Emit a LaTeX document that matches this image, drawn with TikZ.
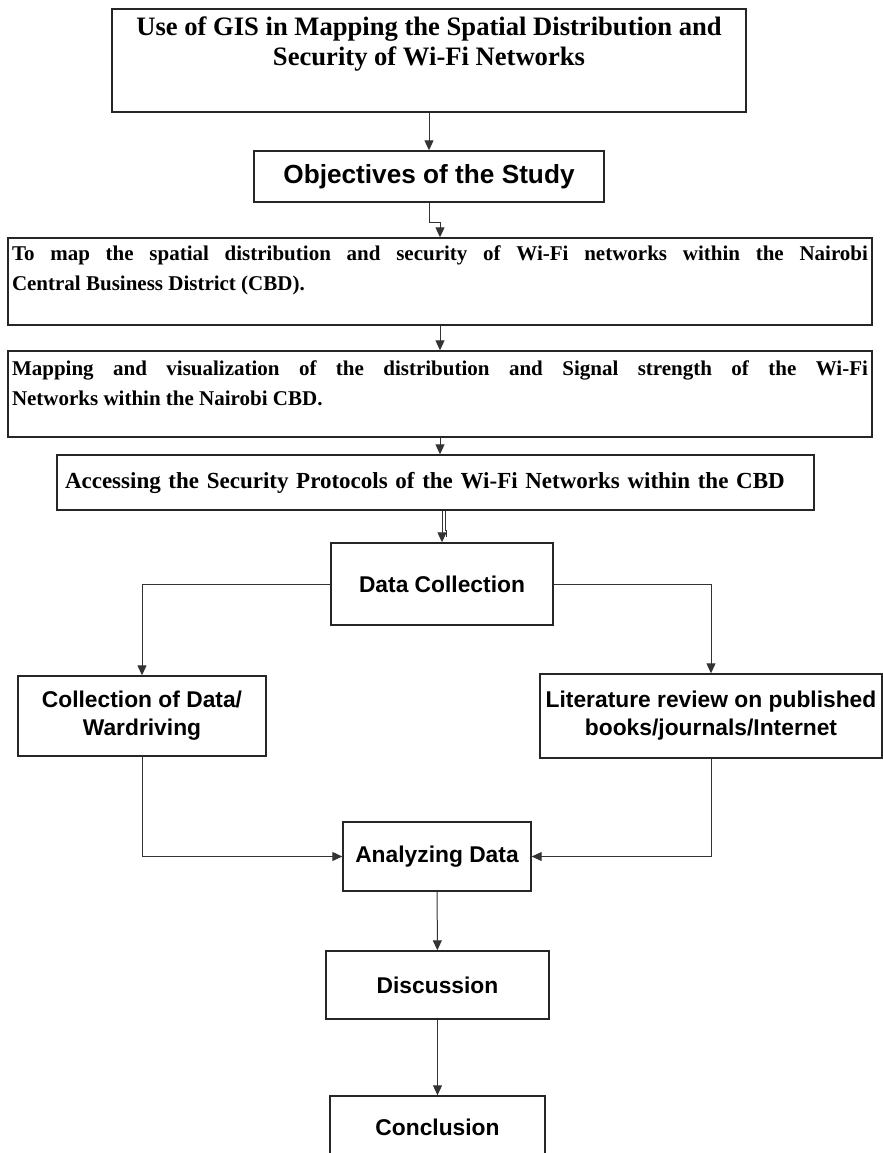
\documentclass[tikz,border=0pt]{standalone}
\usepackage{fontspec}
\setmainfont{Liberation Serif}
\setsansfont{Liberation Sans}
\usetikzlibrary{arrows.meta}

\begin{document}
\begin{tikzpicture}[x=0.5pt, y=-0.5pt,
    box/.style={draw=black!85, line width=0.7pt, inner sep=0pt},
    sans/.style={box, font=\sffamily\bfseries\fontsize{11.4}{14}\selectfont, align=center},
    serif/.style={box, font=\rmfamily\bfseries\fontsize{10.5}{15}\selectfont},
    arr/.style={-{Triangle[length=5pt,width=4.5pt]}, draw=black!80, line width=0.5pt},
    line/.style={draw=black!80, line width=0.5pt}]
            \useasboundingbox (0,0) rectangle (883,1153);
            % Title and objectives
            \node[box, minimum width=317pt, minimum height=51.5pt,
                  font=\rmfamily\bfseries\fontsize{13.3}{15}\selectfont] (title) at (429,60.5)
                {\parbox[c][43.5pt][t]{315pt}{\centering Use of GIS in Mapping the Spatial Distribution and\\ Security of Wi-Fi Networks}};
            \node[sans, minimum width=175pt, minimum height=25.5pt,
                  font=\sffamily\bfseries\fontsize{13.1}{15}\selectfont] (objectives) at (429,176.5) {Objectives of the Study};
            % Objective boxes
            \node[serif, minimum width=432pt, minimum height=43.5pt] (tomap) at (440,281.5)
                {\parbox[c][35.5pt][t]{428pt}{To map the spatial distribution and security of Wi-Fi networks within the Nairobi\linebreak Central Business District (CBD).}};
            \node[serif, minimum width=432pt, minimum height=43pt] (mapping) at (440,394)
                {\parbox[c][33pt][t]{428pt}{Mapping and visualization of the distribution and Signal strength of the Wi-Fi\linebreak Networks within the Nairobi CBD.}};
            \node[serif, minimum width=378.5pt, minimum height=27.5pt, inner xsep=4pt, text width=370.5pt, align=left,
                  font=\rmfamily\bfseries\fontsize{11.5}{14}\selectfont] (accessing) at (435.5,482.5)
                {Accessing the Security Protocols of the Wi-Fi Networks within the CBD};
            % Data collection and analysis
            \node[sans, minimum width=111pt, minimum height=41pt] (datacoll) at (442,584) {Data Collection};
            \node[sans, minimum width=124pt, minimum height=40pt] (collection) at (142,716) {Collection of Data/\\Wardriving};
            \node[sans, minimum width=171pt, minimum height=42pt] (literature) at (711,716) {Literature review on published\\books/journals/Internet};
            \node[sans, minimum width=94pt, minimum height=34.5pt] (analyzing) at (437,856.5) {Analyzing Data};
            \node[sans, minimum width=111.5pt, minimum height=34pt] (discussion) at (437.5,985) {Discussion};
            \node[sans, minimum width=107.5pt, minimum height=31pt] (conclusion) at (437.5,1127) {Conclusion};
            % Arrows
            \draw[arr] (title) -- (objectives);
            \draw[arr] (objectives.south) -- ++(0,20) -| (tomap.north);
            \draw[arr] (tomap) -- (mapping);
            \draw[arr] (mapping.south) -- (mapping.south |- accessing.north);
            \draw[arr] (accessing.south -| datacoll.north) -- (datacoll.north);
            \draw[line] ([xshift=1.5pt]accessing.south -| datacoll.north) -- ++(0,20) -- ++(1,0) -- ++(0,6);
            \draw[arr] (datacoll.west) -| (collection.north);
            \draw[arr] (datacoll.east) -| (literature.north);
            \draw[arr] (collection.south) |- (analyzing.west);
            \draw[arr] (literature.south) |- (analyzing.east);
            \foreach \a/\b in {analyzing/discussion, discussion/conclusion} {
                \draw[arr] (\a) -- (\b);
            }
        \end{tikzpicture}
\end{document}
